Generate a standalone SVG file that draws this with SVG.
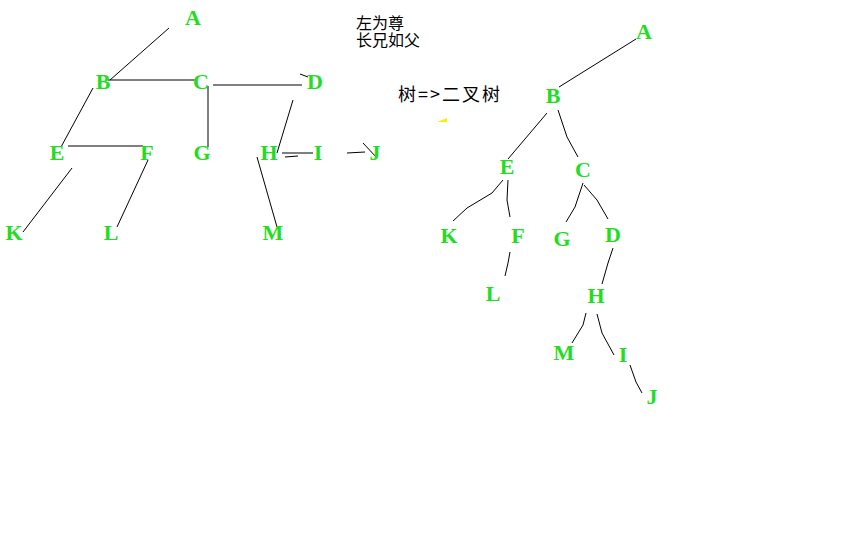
<svg xmlns="http://www.w3.org/2000/svg" width="860" height="537" viewBox="0 0 860 537">
<style>
.n text{font-family:"Liberation Serif","DejaVu Serif",serif;font-weight:bold;font-size:22px;fill:#22dd22;text-anchor:middle}
.c path{fill:none;stroke:#000;stroke-width:1}
.t{font-family:"Noto Sans CJK SC","Noto Sans",sans-serif;fill:#000}
</style>
<rect width="860" height="537" fill="#fff"/>
<g id="connectors" class="c">
<path d="M169,28 L110,80"/>
<path d="M108,80 L197,80"/>
<path d="M213,85 L302,85"/>
<path d="M300,74 L308,77"/>
<path d="M208,86 L208,147"/>
<path d="M93,88 L61,147"/>
<path d="M68,146 L143,146"/>
<path d="M72,168 L23,232"/>
<path d="M148,160 L117,227"/>
<path d="M293,100 L277,153"/>
<path d="M282,153 L313,153"/>
<path d="M285,157 L298,156"/>
<path d="M347,153 L365,152"/>
<path d="M363,143 L377,158"/>
<path d="M257,157 L277,227"/>
<path d="M636,39 L559,87"/>
<path d="M547,113 L508,159"/>
<path d="M558,110 L567,137 L578,157"/>
<path d="M503,180 L492,193 L467,208 L453,221"/>
<path d="M508,180 L507,200 L510,217"/>
<path d="M583,183 L575,207 L566,222"/>
<path d="M584,185 L597,200 L608,219"/>
<path d="M510,252 L508,263 L505,276"/>
<path d="M613,248 L608,263 L602,284"/>
<path d="M586,313 L583,325 L572,343"/>
<path d="M597,314 L602,333 L614,355"/>
<path d="M630,365 L636,382 L642,393"/>
</g>
<g id="L_A" class="n"><text x="193" y="25">A</text></g>
<g id="L_B" class="n"><text x="103" y="89">B</text></g>
<g id="L_C" class="n"><text x="201" y="89">C</text></g>
<g id="L_D" class="n"><text x="315" y="89">D</text></g>
<g id="L_E" class="n"><text x="57" y="160">E</text></g>
<g id="L_F" class="n"><text x="147" y="160">F</text></g>
<g id="L_G" class="n"><text x="202" y="160">G</text></g>
<g id="L_H" class="n"><text x="269" y="160">H</text></g>
<g id="L_I" class="n"><text x="318" y="160">I</text></g>
<g id="L_J" class="n"><text x="375" y="160">J</text></g>
<g id="L_K" class="n"><text x="14" y="240">K</text></g>
<g id="L_L" class="n"><text x="111" y="240">L</text></g>
<g id="L_M" class="n"><text x="273" y="240">M</text></g>
<g id="R_A" class="n"><text x="644" y="39">A</text></g>
<g id="R_B" class="n"><text x="553" y="103">B</text></g>
<g id="R_E" class="n"><text x="507" y="174">E</text></g>
<g id="R_C" class="n"><text x="583" y="177">C</text></g>
<g id="R_K" class="n"><text x="449" y="243">K</text></g>
<g id="R_F" class="n"><text x="518" y="243">F</text></g>
<g id="R_G" class="n"><text x="562" y="246">G</text></g>
<g id="R_D" class="n"><text x="613" y="242">D</text></g>
<g id="R_L" class="n"><text x="493" y="301">L</text></g>
<g id="R_H" class="n"><text x="596" y="303">H</text></g>
<g id="R_M" class="n"><text x="564" y="360">M</text></g>
<g id="R_I" class="n"><text x="623" y="362">I</text></g>
<g id="R_J" class="n"><text x="652" y="404">J</text></g>
<text class="t" font-size="16"><tspan x="356" y="29">左为尊</tspan><tspan x="356" y="46">长兄如父</tspan></text>
<text class="t" x="398" y="101" font-size="18" letter-spacing="2">树=&gt;二叉树</text>
<path d="M437,122 L447,118 L447,122 Z" fill="#ffee00"/>
</svg>
